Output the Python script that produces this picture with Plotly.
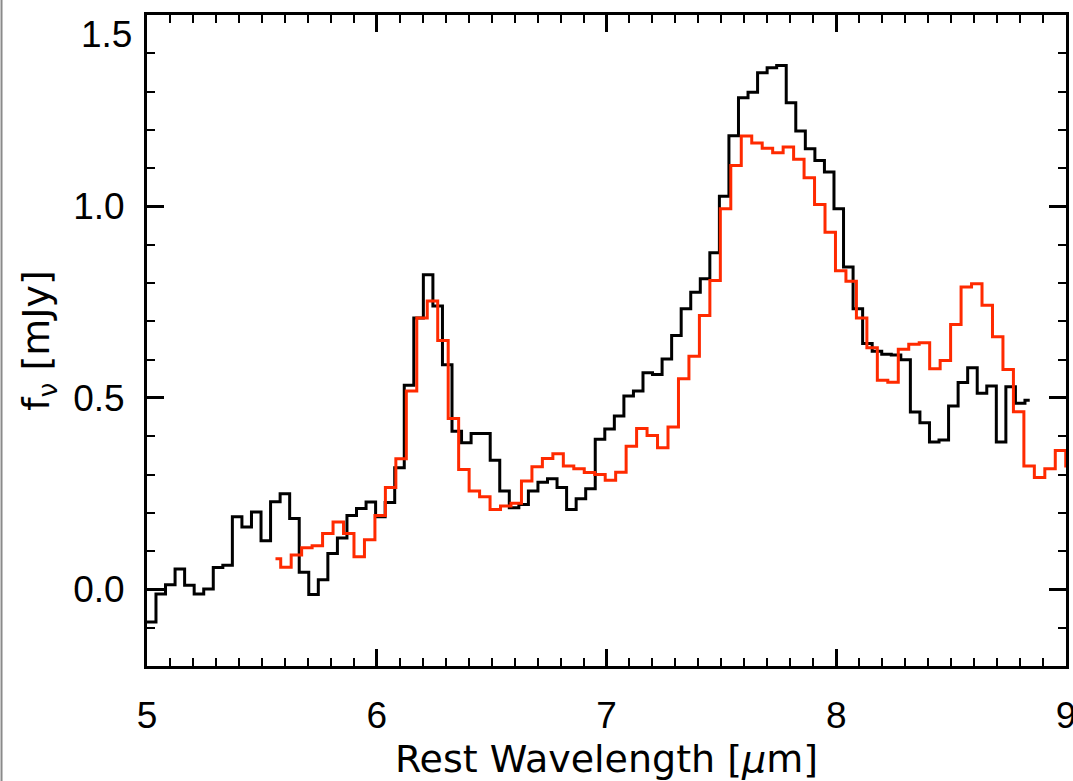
import numpy as np
import plotly.graph_objects as go

# Spectral grids: first bin centre and bin width (micron)
black_lambda_start = 4.9767
black_lambda_step = 0.041564
red_lambda_start = 5.5592
red_lambda_step = 0.045559

# Flux density per bin (mJy)
black_flux = [
    -0.085, -0.085, -0.012, 0.012, 0.053, 0.011, -0.012, 0.001, 0.057, 0.063,
    0.190, 0.163, 0.202, 0.127, 0.229, 0.250, 0.185, 0.045, -0.013, 0.025,
    0.094, 0.134, 0.193, 0.211, 0.228, 0.190, 0.227, 0.318, 0.533, 0.709,
    0.822, 0.740, 0.587, 0.413, 0.383, 0.407, 0.407, 0.337, 0.257, 0.213,
    0.222, 0.257, 0.280, 0.289, 0.266, 0.209, 0.237, 0.263, 0.392, 0.419,
    0.453, 0.505, 0.518, 0.566, 0.561, 0.602, 0.663, 0.733, 0.776, 0.811,
    0.879, 1.027, 1.185, 1.284, 1.298, 1.349, 1.362, 1.368, 1.271, 1.197,
    1.151, 1.120, 1.090, 0.994, 0.842, 0.733, 0.642, 0.622, 0.614, 0.612,
    0.600, 0.463, 0.435, 0.385, 0.390, 0.479, 0.540, 0.579, 0.512, 0.531,
    0.385, 0.529, 0.486, 0.494,
]

red_flux = [
    0.080, 0.058, 0.090, 0.109, 0.114, 0.146, 0.176, 0.146, 0.085, 0.130,
    0.193, 0.266, 0.341, 0.518, 0.709, 0.753, 0.650, 0.446, 0.313, 0.257,
    0.242, 0.209, 0.218, 0.225, 0.283, 0.320, 0.342, 0.354, 0.322, 0.315,
    0.305, 0.300, 0.285, 0.306, 0.374, 0.420, 0.402, 0.370, 0.424, 0.550,
    0.609, 0.715, 0.807, 0.994, 1.107, 1.184, 1.166, 1.152, 1.140, 1.155,
    1.123, 1.075, 1.005, 0.933, 0.832, 0.805, 0.709, 0.631, 0.546, 0.541,
    0.627, 0.640, 0.644, 0.576, 0.598, 0.692, 0.790, 0.798, 0.742, 0.660,
    0.574, 0.464, 0.322, 0.292, 0.315, 0.363, 0.322,
]

x_ticks = [5, 6, 7, 8, 9]
x_tick_labels = ["5", "6", "7", "8", "9"]
y_ticks = [0.0, 0.5, 1.0, 1.5]
y_tick_labels = ["0.0", "0.5", "1.0", "1.5"]

black_lambda = black_lambda_start + black_lambda_step * np.arange(len(black_flux))
red_lambda = red_lambda_start + red_lambda_step * np.arange(len(red_flux))

fig = go.Figure()
fig.add_trace(go.Scatter(
    x=black_lambda, y=black_flux, mode="lines",
    line=dict(color="#000000", width=3, shape="hvh"),
    showlegend=False, hoverinfo="skip",
))
fig.add_trace(go.Scatter(
    x=red_lambda, y=red_flux, mode="lines",
    line=dict(color="#ff2a00", width=3, shape="hvh"),
    showlegend=False, hoverinfo="skip",
))

tick_font = dict(family="Liberation Sans, Arial, sans-serif", size=37, color="#000")
title_font = dict(family="DejaVu Sans, sans-serif", size=38, color="#000")

# the top label sits inside the page, just below the upper frame edge
y_tick_text_axis = [t if v < max(y_ticks) else "" for v, t in zip(y_ticks, y_tick_labels)]

fig.update_xaxes(
    range=[5, 9],
    tickvals=x_ticks, ticktext=x_tick_labels,
    ticks="inside", ticklen=17, tickwidth=2.5, tickcolor="#000",
    minor=dict(ticks="inside", ticklen=8, tickwidth=2, tickcolor="#000", dtick=0.1, tick0=5),
    showline=True, linewidth=3, linecolor="#000", mirror="ticks",
    showgrid=False, zeroline=False,
    tickfont=tick_font, ticklabelstandoff=15, ticklabeloverflow="allow",
    title=dict(text="Rest Wavelength [<i>μ</i>m]", font=title_font, standoff=13),
)
fig.update_yaxes(
    range=[-0.2, 1.5],
    tickvals=y_ticks, ticktext=y_tick_text_axis,
    ticks="inside", ticklen=17, tickwidth=2.5, tickcolor="#000",
    minor=dict(ticks="inside", ticklen=8, tickwidth=2, tickcolor="#000", dtick=0.1, tick0=0),
    showline=True, linewidth=3, linecolor="#000", mirror="ticks",
    showgrid=False, zeroline=False,
    tickfont=tick_font, ticklabelstandoff=12, ticklabeloverflow="allow",
    title=dict(text="f<sub>ν</sub> [mJy]", font=title_font, standoff=12),
)

fig.add_annotation(
    x=0, xref="paper", xanchor="right", xshift=-13,
    y=max(y_ticks), yref="y", yanchor="top", yshift=3,
    text=y_tick_labels[-1], showarrow=False, font=tick_font,
)

# thin grey border along the left edge of the page
fig.add_shape(
    type="line", xref="paper", yref="paper",
    x0=-0.1583, x1=-0.1583, y0=-0.3, y1=1.1,
    line=dict(color="#8a8a8a", width=2),
)

fig.update_layout(
    width=1073, height=781,
    margin=dict(l=147, r=7, t=15, b=115, autoexpand=False),
    paper_bgcolor="#ffffff", plot_bgcolor="#ffffff",
)

fig.write_html("out.html")
